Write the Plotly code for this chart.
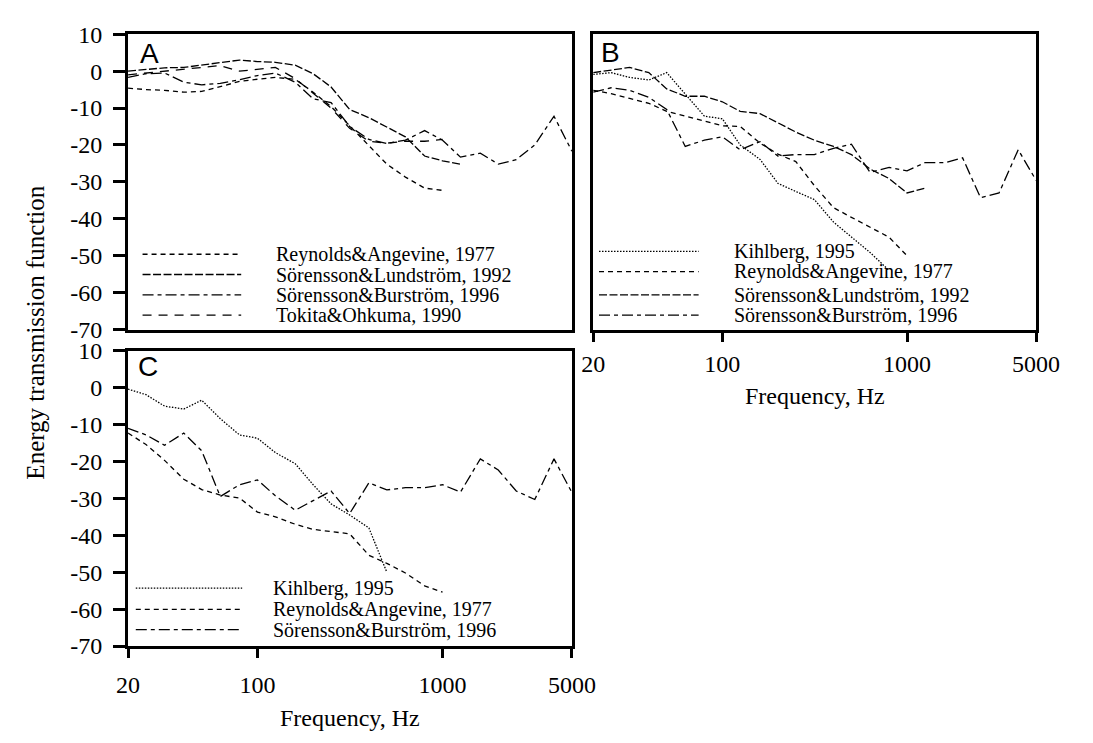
import plotly.graph_objects as go

W, H = 1093, 743

# ---------------- data ----------------
FREQ = [20, 25, 31.5, 40, 50, 63, 80, 100, 125, 160, 200, 250, 315, 400, 500,
        630, 800, 1000, 1250, 1600, 2000, 2500, 3150, 4000, 5000]

# Panel A
a_reynolds = [-4.6, -5.0, -5.2, -5.7, -5.5, -4.2, -2.8, -2.2, -1.7, -2.2, -5.7, -9.6,
              -14.8, -20.0, -25.2, -28.7, -31.7, -32.3]
a_lundstrom = [0.0, 0.4, 0.9, 1.0, 1.7, 2.4, 3.0, 2.6, 2.4, 1.6, -0.7, -4.3, -10.4,
               -12.6, -15.2, -17.8, -23.0, -24.3, -25.2]
a_burstrom = [-1.7, -0.7, -0.5, -3.0, -3.7, -3.3, -2.3, -1.2, -0.5, -3.0, -7.5, -8.5,
              -15.0, -18.5, -19.6, -18.7, -16.1, -18.7, -23.3, -22.2, -25.2, -24.0,
              -20.0, -12.2, -21.7]
a_tokita = [-1.0, -0.5, 0.0, 0.5, 1.0, 1.5, 0.0, 0.5, 1.0, -2.0, -6.0, -10.0, -15.5,
            -19.0, -19.5, -19.0, -19.0, -18.5]

# Panel B
b_kihlberg = [-0.9, -0.4, -1.7, -2.4, -0.4, -6.1, -12.2, -12.9, -20.0, -23.9, -30.4,
              -32.6, -34.8, -40.9, -44.8, -49.1, -54.0]
b_reynolds = [-5.2, -6.1, -7.4, -8.7, -10.9, -12.2, -13.5, -14.8, -15.0, -19.5, -22.5,
              -24.5, -31.0, -37.0, -39.6, -42.2, -45.0, -50.0]
b_lundstrom = [-0.4, 0.3, 1.0, -0.4, -4.8, -6.8, -6.8, -8.3, -10.9, -11.5, -13.9,
               -16.5, -18.7, -20.4, -22.6, -26.5, -29.1, -33.0, -31.7]
b_burstrom = [-5.7, -4.5, -5.2, -7.1, -10.4, -20.4, -18.7, -17.8, -21.3, -19.1, -23.0,
              -22.6, -22.6, -20.9, -19.8, -27.4, -26.1, -27.0, -24.8, -24.8, -23.5,
              -34.3, -33.0, -21.3, -29.6]

# Panel C
c_kihlberg = [-0.4, -1.9, -5.0, -5.8, -3.4, -8.4, -12.8, -13.7, -17.6, -20.6, -26.3,
              -31.5, -34.5, -38.0, -50.0]
c_reynolds = [-12.3, -15.4, -19.7, -24.8, -27.6, -29.1, -29.9, -33.7, -35.0, -37.0,
              -38.4, -38.9, -39.6, -45.4, -47.6, -50.2, -53.7, -55.4]
c_burstrom = [-11.0, -12.8, -15.6, -12.3, -17.1, -29.5, -26.3, -25.0, -29.3, -33.2,
              -30.6, -28.0, -34.1, -25.8, -27.7, -27.1, -27.1, -26.3, -28.3, -19.3,
              -22.3, -28.0, -30.3, -19.3, -28.4]

NAMES = {
    "kih": "Kihlberg, 1995",
    "rey": "Reynolds&Angevine, 1977",
    "lun": "Sörensson&Lundström, 1992",
    "bur": "Sörensson&Burström, 1996",
    "tok": "Tokita&Ohkuma, 1990",
}

X_TICKS = [20, 100, 1000, 5000]
X_TICKTEXT = ["20", "100", "1000", "5000"]
Y_TICKS = [10, 0, -10, -20, -30, -40, -50, -60, -70]
Y_TICKTEXT = ["10", "0", "-10", "-20", "-30", "-40", "-50", "-60", "-70"]

# ---------------- styles ----------------
DASH = {
    "kih": "1.5px,1.5px",
    "rey": "5px,4px",
    "lun": "8px,2.5px",
    "bur": "11px,4px,4px,4px",
    "tok": "9px,7px",
}
SERIF = "Liberation Serif, Times New Roman, serif"
SANS = "Liberation Sans, Arial, sans-serif"


def px(x):
    return x / W


def py(y):
    return 1 - y / H


fig = go.Figure()

panels = {
    "A": dict(xa="x", ya="y", series=[("rey", a_reynolds), ("lun", a_lundstrom),
                                      ("bur", a_burstrom), ("tok", a_tokita)]),
    "B": dict(xa="x2", ya="y2", series=[("kih", b_kihlberg), ("rey", b_reynolds),
                                        ("lun", b_lundstrom), ("bur", b_burstrom)]),
    "C": dict(xa="x3", ya="y3", series=[("kih", c_kihlberg), ("rey", c_reynolds),
                                        ("bur", c_burstrom)]),
}

for pname, p in panels.items():
    for key, vals in p["series"]:
        fig.add_trace(go.Scatter(
            x=FREQ[:len(vals)], y=vals, mode="lines", name=NAMES[key],
            xaxis=p["xa"], yaxis=p["ya"], showlegend=False,
            line=dict(color="black", width=1.3, dash=DASH[key]),
        ))

# ---------------- layout ----------------
dom_x_left = [px(120), px(579)]
dom_x_right = [px(601), px(1059)]
dom_y_top = [py(328), py(22)]
dom_y_bot = [py(656), py(350)]

TICKFONT = dict(family=SERIF, size=24, color="black")

base_x = dict(type="log", range=[1.30103, 3.69897], showline=True, linewidth=3,
              linecolor="black", mirror=True, showgrid=False, zeroline=False,
              tickvals=X_TICKS, ticktext=X_TICKTEXT, tickfont=TICKFONT)
base_y = dict(range=[-70, 10], showline=True, linewidth=3, linecolor="black",
              mirror=True, showgrid=False, zeroline=False, tickvals=Y_TICKS,
              ticktext=Y_TICKTEXT, tickfont=TICKFONT)

fig.update_layout(
    width=W, height=H, margin=dict(l=0, r=0, t=0, b=0),
    paper_bgcolor="white", plot_bgcolor="white", showlegend=False,
    xaxis=dict(base_x, domain=dom_x_left, anchor="y", ticks="", showticklabels=False),
    yaxis=dict(base_y, domain=dom_y_top, anchor="x", ticks="outside", ticklen=12,
               tickwidth=2.5, tickcolor="black", ticklabelstandoff=6),
    xaxis2=dict(base_x, domain=dom_x_right, anchor="y2", ticks="outside", ticklen=9,
                tickwidth=3, tickcolor="black", ticklabelstandoff=2),
    yaxis2=dict(base_y, domain=dom_y_top, anchor="x2", ticks="", showticklabels=False),
    xaxis3=dict(base_x, domain=dom_x_left, anchor="y3", ticks="outside", ticklen=9,
                tickwidth=3, tickcolor="black", ticklabelstandoff=6),
    yaxis3=dict(base_y, domain=dom_y_bot, anchor="x3", ticks="outside", ticklen=12,
                tickwidth=2.5, tickcolor="black", ticklabelstandoff=6),
)

annotations = []
shapes = []

# panel letters
for letter, (lx, ly) in {"A": (130, 42), "B": (607, 41), "C": (128, 366)}.items():
    annotations.append(dict(text=letter, x=px(lx), y=py(ly), xref="paper", yref="paper",
                            xanchor="left", yanchor="middle", showarrow=False,
                            font=dict(family=SANS, size=28, color="black")))

# legends (line samples + labels)
legend_spec = {
    "A": dict(x0=135, x1=237, xt=271, rows=[250, 271, 292, 313],
              keys=["rey", "lun", "bur", "tok"]),
    "B": dict(x0=607, x1=710, xt=745, rows=[247, 268, 292, 313],
              keys=["kih", "rey", "lun", "bur"]),
    "C": dict(x0=128, x1=238, xt=268, rows=[596, 618, 639],
              keys=["kih", "rey", "bur"]),
}
for pname, spec in legend_spec.items():
    for yrow, key in zip(spec["rows"], spec["keys"]):
        shapes.append(dict(type="line", xref="paper", yref="paper",
                           x0=px(spec["x0"]), x1=px(spec["x1"]), y0=py(yrow), y1=py(yrow),
                           line=dict(color="black", width=1.3, dash=DASH[key])))
        annotations.append(dict(text=NAMES[key], x=px(spec["xt"]), y=py(yrow),
                                xref="paper", yref="paper", xanchor="left",
                                yanchor="middle", showarrow=False,
                                font=dict(family=SERIF, size=20, color="black")))

# axis titles
annotations.append(dict(text="Energy transmission function", x=px(24), y=py(331),
                        xref="paper", yref="paper", textangle=-90, showarrow=False,
                        xanchor="center", yanchor="middle",
                        font=dict(family=SERIF, size=25, color="black")))
for cx, cy in [(830, 397), (350, 731)]:
    annotations.append(dict(text="Frequency, Hz", x=px(cx), y=py(cy), xref="paper",
                            yref="paper", showarrow=False, xanchor="center",
                            yanchor="middle",
                            font=dict(family=SERIF, size=24, color="black")))

fig.update_layout(annotations=annotations, shapes=shapes)
fig.write_html("out.html")
